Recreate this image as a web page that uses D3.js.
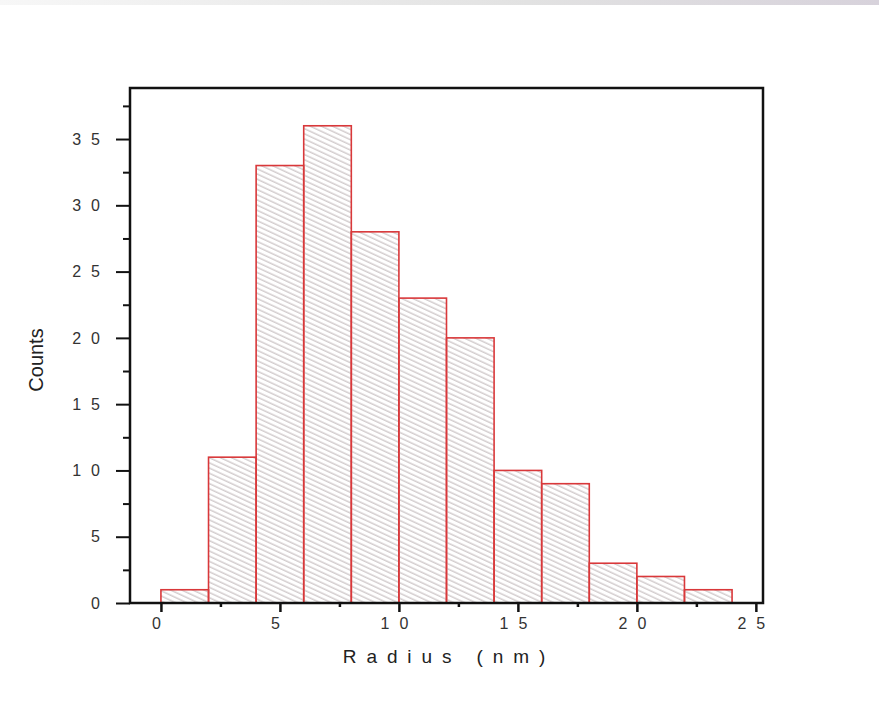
<!DOCTYPE html>
<html><head><meta charset="utf-8">
<script src="https://cdn.jsdelivr.net/npm/d3@7"></script>
<style>body{margin:0;background:#fff;} svg{display:block;font-family:"Liberation Sans",Arial,sans-serif;}</style>
</head><body>
<svg id="c" width="879" height="703"></svg>
<script>
const binStarts = [0, 2, 4, 6, 8, 10, 12, 14, 16, 18, 20, 22];
const binWidth = 2;
const counts = [1, 11, 33, 36, 28, 23, 20, 10, 9, 3, 2, 1];
const xTicks = [0, 5, 10, 15, 20, 25];
const yTicks = [0, 5, 10, 15, 20, 25, 30, 35];
const xMinor = [2.5, 7.5, 12.5, 17.5, 22.5];
const yMinor = [2.5, 7.5, 12.5, 17.5, 22.5, 27.5, 32.5, 37.5];

const svg = d3.select("#c");
const defs = svg.append("defs");
const g0 = defs.append("linearGradient").attr("id","topg").attr("x1","0").attr("x2","1");
g0.append("stop").attr("offset","0").attr("stop-color","#f7f7f7");
g0.append("stop").attr("offset","0.6").attr("stop-color","#e2e2e2");
g0.append("stop").attr("offset","1").attr("stop-color","#d7d2db");
svg.append("rect").attr("x",0).attr("y",0).attr("width",879).attr("height",5).attr("fill","url(#topg)");

const pat = defs.append("pattern").attr("id","hatch").attr("patternUnits","userSpaceOnUse")
  .attr("width",10).attr("height",4.7).attr("patternTransform","rotate(25)");
pat.append("line").attr("x1",0).attr("x2",10).attr("y1",2).attr("y2",2)
  .attr("stroke","#b3a9aa").attr("stroke-width",0.9);

const L = 130, R = 763, T = 88, B = 603;
const x = d3.scaleLinear().domain([-1.3, 25.3]).range([L, R]);
const y = d3.scaleLinear().domain([0, 38.85]).range([B, T]);

// bars
svg.append("g").selectAll("rect").data(counts).join("rect")
  .attr("x", (d,i) => x(binStarts[i]))
  .attr("y", d => y(d))
  .attr("width", (d,i) => x(binStarts[i] + binWidth) - x(binStarts[i]))
  .attr("height", d => y(0) - y(d))
  .attr("fill", "url(#hatch)")
  .attr("stroke", "#d9383a").attr("stroke-width", 1.6);

// frame
svg.append("rect").attr("x",L).attr("y",T).attr("width",R-L).attr("height",B-T)
  .attr("fill","none").attr("stroke","#111").attr("stroke-width",2.5);

const lblStyle = sel => sel.style("font-size","16px").attr("fill","#333")
  .style("letter-spacing","10px").style("font-family","Liberation Sans, Arial, sans-serif");

// y axis
const yAx = svg.append("g").attr("transform",`translate(${L},0)`)
  .call(d3.axisLeft(y).tickValues(yTicks).tickSize(14).tickPadding(6).tickFormat(d => d));
yAx.select(".domain").remove();
yAx.selectAll(".tick line").attr("stroke","#111").attr("stroke-width",2);
yAx.selectAll(".tick text").call(lblStyle);
svg.append("g").attr("transform",`translate(${L},0)`)
  .call(d3.axisLeft(y).tickValues(yMinor).tickSize(7).tickFormat(""))
  .call(g => { g.select(".domain").remove(); g.selectAll(".tick line").attr("stroke","#111").attr("stroke-width",2); });
// x axis
const xAx = svg.append("g").attr("transform",`translate(0,${B})`)
  .call(d3.axisBottom(x).tickValues(xTicks).tickSize(9).tickPadding(6).tickFormat(d => d));
xAx.select(".domain").remove();
xAx.selectAll(".tick line").attr("stroke","#111").attr("stroke-width",2.5);
xAx.selectAll(".tick text").call(lblStyle);
svg.append("g").attr("transform",`translate(0,${B})`)
  .call(d3.axisBottom(x).tickValues(xMinor).tickSize(4).tickFormat(""))
  .call(g => { g.select(".domain").remove(); g.selectAll(".tick line").attr("stroke","#111").attr("stroke-width",2.5); });

// axis titles
svg.append("text").attr("x",449).attr("y",663).attr("text-anchor","middle")
  .style("font-size","19px").attr("fill","#222").style("letter-spacing","9.9px").text("Radius (nm)");
svg.append("text").attr("transform","translate(43,360) rotate(-90)").attr("text-anchor","middle")
  .style("font-size","20px").attr("fill","#222").text("Counts");
</script>
</body></html>
